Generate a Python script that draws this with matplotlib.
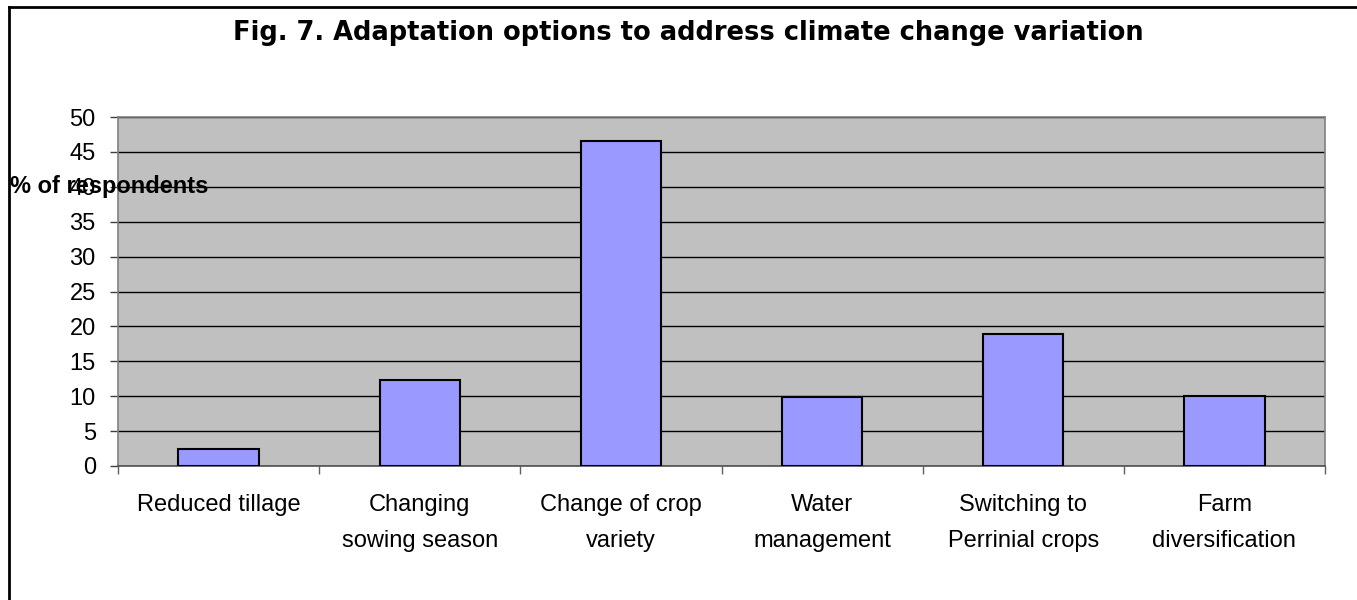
import matplotlib
matplotlib.use("Agg")
import matplotlib.pyplot as plt
from matplotlib.lines import Line2D
import numpy as np

categories = ["Reduced tillage", "Changing\nsowing season", "Change of crop\nvariety",
              "Water\nmanagement", "Switching to\nPerrinial crops", "Farm\ndiversification"]
values = [2.4, 12.3, 46.6, 9.9, 18.9, 10.1]
yticks = [0, 5, 10, 15, 20, 25, 30, 35, 40, 45, 50]

W, H = 1357, 600
fig = plt.figure(figsize=(W / 100, H / 100), dpi=100)
fig.patch.set_facecolor("white")

# outer frame (left and top edges visible)
fig.add_artist(Line2D([9 / W, 9 / W], [0, 1 - 7 / H], transform=fig.transFigure, color="black", lw=2))
fig.add_artist(Line2D([9 / W, 1], [1 - 7 / H, 1 - 7 / H], transform=fig.transFigure, color="black", lw=2))

left, right, top, bottom = 118, 1325, 117, 466
ax = fig.add_axes([left / W, 1 - bottom / H, (right - left) / W, (bottom - top) / H])
ax.set_facecolor("#C0C0C0")

x = np.arange(len(categories))
ax.bar(x, values, width=0.40, color="#9999FF", edgecolor="black", linewidth=1.5, zorder=3)

ax.set_xlim(-0.5, len(categories) - 0.5)
ax.set_ylim(0, 50)
ax.set_yticks(yticks)
ax.set_yticklabels([str(t) for t in yticks], fontsize=17, family="Liberation Sans")
ax.yaxis.grid(True, color="black", linewidth=1, zorder=1)
ax.set_axisbelow(True)

ax.set_xticks(x)
ax.set_xticklabels(categories, fontsize=17, family="Liberation Sans", linespacing=1.83)
ax.tick_params(axis="x", which="major", length=0, pad=20)
ax.set_xticks(np.arange(len(categories) + 1) - 0.5, minor=True)
ax.tick_params(axis="x", which="minor", length=6, color="#606060", width=1)
ax.tick_params(axis="y", length=6, color="#404040", width=1, pad=10)

for s in ax.spines.values():
    s.set_color("#808080")
    s.set_linewidth(1.2)
ax.spines["bottom"].set_color("#505050")

fig.text(688 / W, 1 - 33 / H, "Fig. 7. Adaptation options to address climate change variation",
         ha="center", va="center", fontsize=18.5, fontweight="bold", family="DejaVu Sans")
fig.text(10 / W, 1 - 187 / H, "% of respondents", ha="left", va="center",
         fontsize=17, fontweight="bold", family="Liberation Sans")

fig.savefig("out.png", dpi=100)
